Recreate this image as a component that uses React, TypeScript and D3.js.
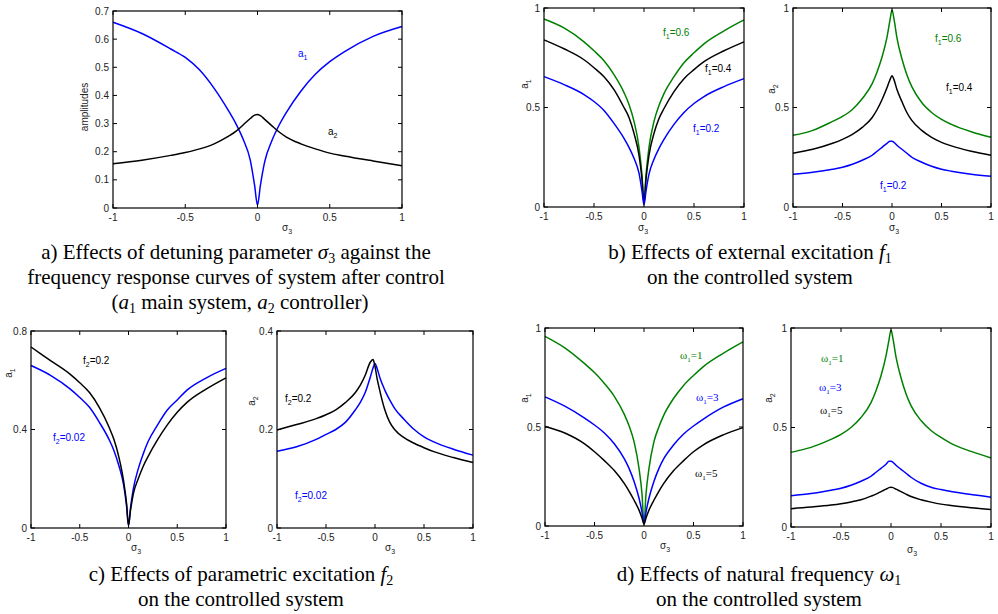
import React from 'react';
import * as d3 from 'd3';

// detuning grid shared by every curve (denser near the resonance)
const SIGMA = [-1, -0.8, -0.6, -0.5, -0.4, -0.3, -0.2, -0.15, -0.1, -0.05, -0.02, 0, 0.02, 0.05, 0.1, 0.15, 0.2, 0.3, 0.4, 0.5, 0.6, 0.8, 1];
const X_TICKS = [-1, -0.5, 0, 0.5, 1];

// a) a1 main system, a2 controller
const A_A1 = [0.66, 0.62, 0.565, 0.535, 0.49, 0.425, 0.345, 0.3, 0.245, 0.17, 0.08, 0.01, 0.08, 0.165, 0.24, 0.295, 0.34, 0.415, 0.475, 0.52, 0.555, 0.61, 0.645];
const A_A2 = [0.157, 0.17, 0.187, 0.197, 0.21, 0.228, 0.255, 0.272, 0.295, 0.318, 0.33, 0.332, 0.328, 0.315, 0.292, 0.27, 0.252, 0.228, 0.21, 0.195, 0.185, 0.167, 0.15];
const A_Y_TICKS = [0, 0.1, 0.2, 0.3, 0.4, 0.5, 0.6, 0.7];

// b) external excitation f1 = 0.6 / 0.4 / 0.2
const B_A1_F06 = [0.945, 0.9, 0.83, 0.785, 0.735, 0.665, 0.575, 0.515, 0.43, 0.3, 0.16, 0.02, 0.16, 0.3, 0.43, 0.51, 0.57, 0.655, 0.725, 0.775, 0.82, 0.885, 0.94];
const B_A1_F04 = [0.84, 0.795, 0.74, 0.7, 0.655, 0.59, 0.5, 0.45, 0.37, 0.26, 0.14, 0.02, 0.14, 0.26, 0.37, 0.445, 0.495, 0.58, 0.645, 0.69, 0.73, 0.785, 0.83];
const B_A1_F02 = [0.655, 0.615, 0.565, 0.53, 0.485, 0.42, 0.345, 0.3, 0.245, 0.17, 0.08, 0.01, 0.08, 0.165, 0.24, 0.295, 0.34, 0.415, 0.475, 0.52, 0.555, 0.605, 0.645];
const B_A2_F06 = [0.36, 0.385, 0.43, 0.455, 0.49, 0.545, 0.62, 0.68, 0.755, 0.855, 0.94, 0.99, 0.945, 0.85, 0.745, 0.665, 0.605, 0.525, 0.475, 0.44, 0.415, 0.378, 0.35];
const B_A2_F04 = [0.27, 0.29, 0.32, 0.34, 0.365, 0.4, 0.45, 0.49, 0.54, 0.6, 0.64, 0.66, 0.64, 0.59, 0.53, 0.475, 0.435, 0.385, 0.35, 0.325, 0.307, 0.28, 0.26];
const B_A2_F02 = [0.165, 0.175, 0.19, 0.2, 0.215, 0.235, 0.26, 0.28, 0.3, 0.32, 0.33, 0.33, 0.325, 0.31, 0.29, 0.27, 0.25, 0.225, 0.205, 0.19, 0.18, 0.165, 0.155];
const B_Y_TICKS = [0, 0.5, 1];

// c) parametric excitation f2 = 0.2 / 0.02
const C_A1_F02 = [0.735, 0.68, 0.625, 0.59, 0.55, 0.49, 0.41, 0.36, 0.29, 0.19, 0.1, 0.01, 0.07, 0.14, 0.2, 0.25, 0.29, 0.36, 0.42, 0.47, 0.51, 0.565, 0.61];
const C_A1_F002 = [0.66, 0.62, 0.565, 0.53, 0.49, 0.43, 0.36, 0.315, 0.255, 0.175, 0.09, 0.01, 0.08, 0.16, 0.24, 0.3, 0.35, 0.42, 0.48, 0.52, 0.56, 0.61, 0.648];
const C_A2_F02 = [0.199, 0.21, 0.222, 0.23, 0.24, 0.255, 0.275, 0.29, 0.31, 0.336, 0.342, 0.328, 0.305, 0.278, 0.24, 0.215, 0.2, 0.183, 0.172, 0.163, 0.155, 0.143, 0.133];
const C_A2_F002 = [0.156, 0.165, 0.18, 0.19, 0.2, 0.215, 0.24, 0.255, 0.275, 0.305, 0.325, 0.334, 0.325, 0.305, 0.28, 0.26, 0.243, 0.22, 0.2, 0.185, 0.175, 0.16, 0.148];
const C_A1_TICKS = [0, 0.4, 0.8];
const C_A2_TICKS = [0, 0.2, 0.4];

// d) natural frequency w1 = 1 / 3 / 5
const D_A1_W1 = [0.958, 0.9, 0.82, 0.775, 0.72, 0.655, 0.565, 0.505, 0.425, 0.29, 0.16, 0.01, 0.16, 0.29, 0.425, 0.5, 0.56, 0.645, 0.71, 0.76, 0.805, 0.872, 0.93];
const D_A1_W3 = [0.652, 0.605, 0.545, 0.51, 0.47, 0.415, 0.34, 0.29, 0.225, 0.14, 0.07, 0.01, 0.07, 0.14, 0.225, 0.29, 0.34, 0.41, 0.465, 0.505, 0.54, 0.6, 0.643];
const D_A1_W5 = [0.503, 0.47, 0.415, 0.375, 0.33, 0.28, 0.215, 0.175, 0.13, 0.08, 0.04, 0.01, 0.04, 0.08, 0.13, 0.175, 0.215, 0.28, 0.33, 0.375, 0.41, 0.46, 0.497];
const D_A2_W1 = [0.375, 0.4, 0.44, 0.465, 0.5, 0.55, 0.625, 0.685, 0.76, 0.86, 0.94, 0.99, 0.945, 0.855, 0.75, 0.67, 0.61, 0.535, 0.485, 0.45, 0.42, 0.38, 0.347];
const D_A2_W3 = [0.157, 0.168, 0.185, 0.195, 0.21, 0.23, 0.255, 0.275, 0.295, 0.315, 0.33, 0.33, 0.325, 0.31, 0.29, 0.27, 0.25, 0.22, 0.2, 0.188, 0.178, 0.163, 0.15];
const D_A2_W5 = [0.092, 0.1, 0.11, 0.117, 0.126, 0.137, 0.155, 0.165, 0.178, 0.19, 0.198, 0.2, 0.198, 0.19, 0.178, 0.165, 0.153, 0.137, 0.125, 0.115, 0.108, 0.097, 0.088];

const BLUE = '#0000ff';
const GREEN = '#008000';
const BLACK = '#000000';
const SANS = '"Liberation Sans", Arial, sans-serif';
const SERIF = '"Liberation Serif", "Times New Roman", serif';

type Series = { values: number[]; color: string };
type Label = { x: number; y: number; color: string; base: string; sub: string; rest: string; serif?: boolean };
type Panel = {
  x0: number; x1: number; y0: number; y1: number;
  yMax: number; yTicks: number[];
  series: Series[]; labels: Label[];
  ylab: { x: number; y: number; text: string; sub?: string };
  xlab: { x: number; y: number };
};

const PANELS: Panel[] = [
  {
    x0: 113, x1: 402, y0: 11, y1: 208, yMax: 0.7, yTicks: A_Y_TICKS,
    series: [{ values: A_A1, color: BLUE }, { values: A_A2, color: BLACK }],
    labels: [
      { x: 298, y: 57, color: BLUE, base: 'a', sub: '1', rest: '' },
      { x: 328, y: 135, color: BLACK, base: 'a', sub: '2', rest: '' },
    ],
    ylab: { x: 88, y: 107, text: 'amplitudes' },
    xlab: { x: 287, y: 231 },
  },
  {
    x0: 544, x1: 744, y0: 8, y1: 207, yMax: 1, yTicks: B_Y_TICKS,
    series: [{ values: B_A1_F06, color: GREEN }, { values: B_A1_F04, color: BLACK }, { values: B_A1_F02, color: BLUE }],
    labels: [
      { x: 663, y: 36, color: GREEN, base: 'f', sub: '1', rest: '=0.6' },
      { x: 705, y: 72, color: BLACK, base: 'f', sub: '1', rest: '=0.4' },
      { x: 693, y: 132, color: BLUE, base: 'f', sub: '1', rest: '=0.2' },
    ],
    ylab: { x: 528, y: 84, text: 'a', sub: '1' },
    xlab: { x: 643, y: 231 },
  },
  {
    x0: 793, x1: 991, y0: 8, y1: 207, yMax: 1, yTicks: B_Y_TICKS,
    series: [{ values: B_A2_F06, color: GREEN }, { values: B_A2_F04, color: BLACK }, { values: B_A2_F02, color: BLUE }],
    labels: [
      { x: 935, y: 42, color: GREEN, base: 'f', sub: '1', rest: '=0.6' },
      { x: 946, y: 91, color: BLACK, base: 'f', sub: '1', rest: '=0.4' },
      { x: 880, y: 189, color: BLUE, base: 'f', sub: '1', rest: '=0.2' },
    ],
    ylab: { x: 775, y: 89, text: 'a', sub: '2' },
    xlab: { x: 894, y: 231 },
  },
  {
    x0: 31, x1: 226, y0: 331, y1: 528, yMax: 0.8, yTicks: C_A1_TICKS,
    series: [{ values: C_A1_F002, color: BLUE }, { values: C_A1_F02, color: BLACK }],
    labels: [
      { x: 83, y: 364, color: BLACK, base: 'f', sub: '2', rest: '=0.2' },
      { x: 53, y: 441, color: BLUE, base: 'f', sub: '2', rest: '=0.02' },
    ],
    ylab: { x: 12, y: 373, text: 'a', sub: '1' },
    xlab: { x: 136, y: 551 },
  },
  {
    x0: 277, x1: 473, y0: 331, y1: 528, yMax: 0.4, yTicks: C_A2_TICKS,
    series: [{ values: C_A2_F002, color: BLUE }, { values: C_A2_F02, color: BLACK }],
    labels: [
      { x: 285, y: 402, color: BLACK, base: 'f', sub: '2', rest: '=0.2' },
      { x: 295, y: 499, color: BLUE, base: 'f', sub: '2', rest: '=0.02' },
    ],
    ylab: { x: 255, y: 401, text: 'a', sub: '2' },
    xlab: { x: 390, y: 551 },
  },
  {
    x0: 545, x1: 743, y0: 328, y1: 526, yMax: 1, yTicks: B_Y_TICKS,
    series: [{ values: D_A1_W1, color: GREEN }, { values: D_A1_W3, color: BLUE }, { values: D_A1_W5, color: BLACK }],
    labels: [
      { x: 680, y: 359, color: GREEN, base: 'ω', sub: '1', rest: '=1', serif: true },
      { x: 696, y: 401, color: BLUE, base: 'ω', sub: '1', rest: '=3', serif: true },
      { x: 695, y: 477, color: BLACK, base: 'ω', sub: '1', rest: '=5', serif: true },
    ],
    ylab: { x: 528, y: 398, text: 'a', sub: '1' },
    xlab: { x: 665, y: 549 },
  },
  {
    x0: 791, x1: 991, y0: 328, y1: 527, yMax: 1, yTicks: B_Y_TICKS,
    series: [{ values: D_A2_W1, color: GREEN }, { values: D_A2_W3, color: BLUE }, { values: D_A2_W5, color: BLACK }],
    labels: [
      { x: 821, y: 362, color: GREEN, base: 'ω', sub: '1', rest: '=1', serif: true },
      { x: 819, y: 391, color: BLUE, base: 'ω', sub: '1', rest: '=3', serif: true },
      { x: 820, y: 414, color: BLACK, base: 'ω', sub: '1', rest: '=5', serif: true },
    ],
    ylab: { x: 772, y: 398, text: 'a', sub: '2' },
    xlab: { x: 912, y: 553 },
  },
];

const fmt = (v: number) => String(v);

const PlotPanel: React.FC<{ p: Panel }> = ({ p }) => {
  const x = d3.scaleLinear().domain([-1, 1]).range([p.x0, p.x1]);
  const y = d3.scaleLinear().domain([0, p.yMax]).range([p.y1, p.y0]);
  const line = d3.line<number>()
    .x((_, i) => x(SIGMA[i]))
    .y(v => y(v))
    .curve(d3.curveMonotoneX);
  const tl = 4;
  return (
    <g>
      {p.series.map((s, i) => (
        <path key={i} d={line(s.values) ?? ''} fill="none" stroke={s.color} strokeWidth={1.5} />
      ))}
      <rect x={p.x0} y={p.y0} width={p.x1 - p.x0} height={p.y1 - p.y0} fill="none" stroke="#000" strokeWidth={1.2} />
      {X_TICKS.map(t => (
        <g key={'x' + t}>
          <line x1={x(t)} x2={x(t)} y1={p.y1} y2={p.y1 - tl} stroke="#000" />
          <line x1={x(t)} x2={x(t)} y1={p.y0} y2={p.y0 + tl} stroke="#000" />
          <text x={x(t)} y={p.y1 + 13} textAnchor="middle" fontFamily={SANS} fontSize={10} fill="#222">{fmt(t)}</text>
        </g>
      ))}
      {p.yTicks.map(t => (
        <g key={'y' + t}>
          <line x1={p.x0} x2={p.x0 + tl} y1={y(t)} y2={y(t)} stroke="#000" />
          <line x1={p.x1} x2={p.x1 - tl} y1={y(t)} y2={y(t)} stroke="#000" />
          <text x={p.x0 - 4} y={y(t)} dy="0.35em" textAnchor="end" fontFamily={SANS} fontSize={10} fill="#222">{fmt(t)}</text>
        </g>
      ))}
      <text transform={`translate(${p.ylab.x},${p.ylab.y}) rotate(-90)`} textAnchor="middle" fontFamily={SANS} fontSize={10} fill="#222">
        {p.ylab.text}
        {p.ylab.sub && <tspan fontSize={7} dy={3}>{p.ylab.sub}</tspan>}
      </text>
      <text x={p.xlab.x} y={p.xlab.y} textAnchor="middle" fontFamily={SANS} fontSize={10} fill="#222">
        σ<tspan fontSize={7} dy={3}>3</tspan>
      </text>
      {p.labels.map((l, i) => (
        <text key={i} x={l.x} y={l.y} fontFamily={l.serif ? SERIF : SANS} fontSize={l.serif ? 11 : 10} fill={l.color}>
          {l.base}<tspan fontSize={7} dy={3}>{l.sub}</tspan>{l.rest && <tspan dy={-3}>{l.rest}</tspan>}
        </text>
      ))}
    </g>
  );
};

const Cap: React.FC<{ x: number; y: number; children: React.ReactNode }> = ({ x, y, children }) => (
  <text x={x} y={y} textAnchor="middle" fontFamily={SERIF} fontSize={21} fill="#000">{children}</text>
);
const It: React.FC<{ c: string }> = ({ c }) => <tspan fontStyle="italic">{c}</tspan>;
const Sub: React.FC<{ c: string }> = ({ c }) => <tspan fontSize={14} dy={4}>{c}</tspan>;
const Back: React.FC<{ c: string }> = ({ c }) => <tspan dy={-4}>{c}</tspan>;

export default function App() {
  return (
    <div style={{ position: 'absolute', left: 0, top: 0 }}>
      <svg width={998} height={614} style={{ display: 'block', background: '#fff' }}>
        {PANELS.map((p, i) => <PlotPanel key={i} p={p} />)}
        <Cap x={236} y={259}>a) Effects of detuning parameter <It c="σ" /><Sub c="3" /><Back c=" against the" /></Cap>
        <Cap x={236} y={284}>frequency response curves of system after control</Cap>
        <Cap x={240} y={309}>(<It c="a" /><Sub c="1" /><Back c=" main system, " /><It c="a" /><Sub c="2" /><Back c=" controller)" /></Cap>
        <Cap x={750} y={259}>b) Effects of external excitation <It c="f" /><Sub c="1" /></Cap>
        <Cap x={750} y={284}>on the controlled system</Cap>
        <Cap x={241} y={581}>c) Effects of parametric excitation <It c="f" /><Sub c="2" /></Cap>
        <Cap x={241} y={606}>on the controlled system</Cap>
        <Cap x={759} y={581}>d) Effects of natural frequency <It c="ω" /><Sub c="1" /></Cap>
        <Cap x={759} y={606}>on the controlled system</Cap>
      </svg>
    </div>
  );
}
